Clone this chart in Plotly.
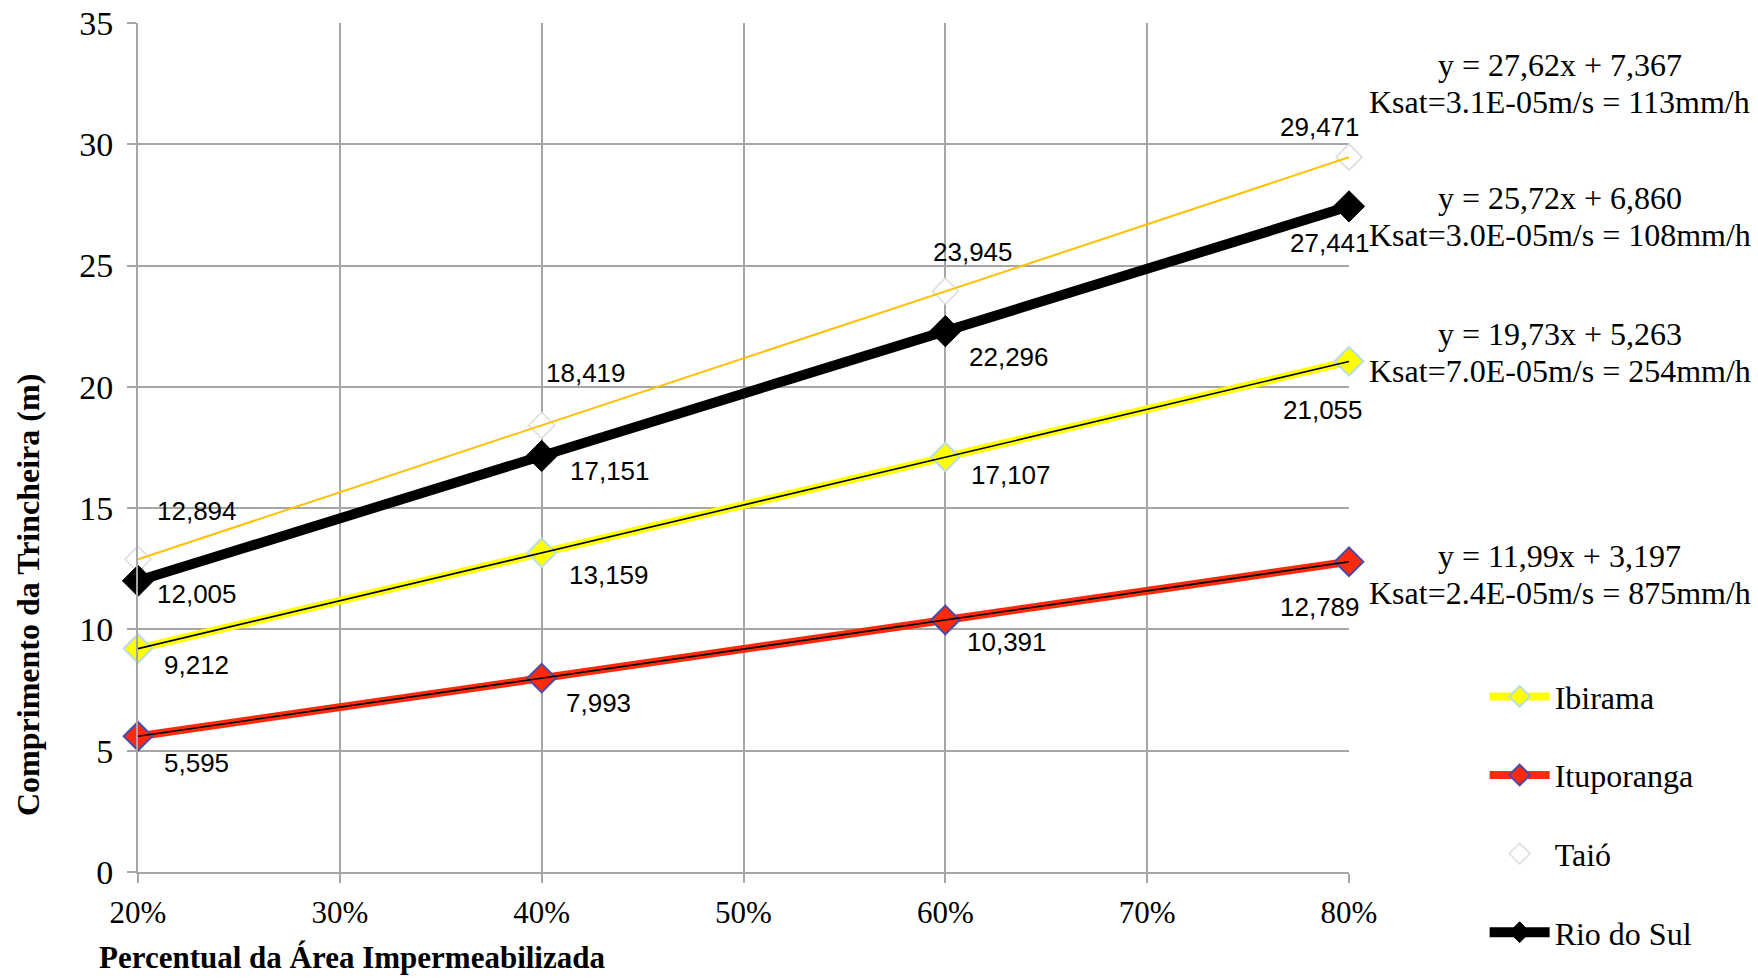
import plotly.graph_objects as go

# Percent of impervious area (fraction) and trench length (m) per municipality
area_fraction = [0.2, 0.4, 0.6, 0.8]

ibirama = [9.212, 13.159, 17.107, 21.055]
ituporanga = [5.595, 7.993, 10.391, 12.789]
taio = [12.894, 18.419, 23.945, 29.471]
rio_do_sul = [12.005, 17.151, 22.296, 27.441]

# Linear trend coefficients (y = a*x + b) and infiltration rates shown beside them
trend_slope = {"Taió": 27.62, "Rio do Sul": 25.72, "Ibirama": 19.73, "Ituporanga": 11.99}
trend_intercept = {"Taió": 7.367, "Rio do Sul": 6.860, "Ibirama": 5.263, "Ituporanga": 3.197}
ksat_text = {
    "Taió": "Ksat=3.1E-05m/s = 113mm/h",
    "Rio do Sul": "Ksat=3.0E-05m/s = 108mm/h",
    "Ibirama": "Ksat=7.0E-05m/s = 254mm/h",
    "Ituporanga": "Ksat=2.4E-05m/s = 875mm/h",
}

SERIF = "Liberation Serif, Times New Roman, serif"
SANS = "Liberation Sans, Arial, sans-serif"
GRID = "#a6a6a6"

series = [
    dict(name="Ibirama", y=ibirama, line=dict(color="#ffff00", width=8),
         marker=dict(symbol="diamond", size=22, color="#ffff00",
                     line=dict(color="#b9dde6", width=2)),
         trend_color="#000000", trend_width=1.6),
    dict(name="Ituporanga", y=ituporanga, line=dict(color="#ff2a0a", width=8),
         marker=dict(symbol="diamond", size=22, color="#ff2a0a",
                     line=dict(color="#4a4aa8", width=2)),
         trend_color="#000000", trend_width=1.6),
    dict(name="Taió", y=taio, line=dict(color="rgba(0,0,0,0)", width=0),
         marker=dict(symbol="diamond", size=20, color="#ffffff",
                     line=dict(color="#dcdcdc", width=1.5)),
         trend_color="#ffc000", trend_width=2),
    dict(name="Rio do Sul", y=rio_do_sul, line=dict(color="#000000", width=10),
         marker=dict(symbol="diamond", size=24, color="#000000",
                     line=dict(color="#000000", width=1)),
         trend_color="#000000", trend_width=1.6),
]

# pixel offsets of the value labels relative to each point
label_offsets = {
    "Taió": [(59, 48), (44, 52), (28, 39), (-29, 30)],
    "Rio do Sul": [(59, -13), (68, -15), (64, -26), (-19, -37)],
    "Ibirama": [(58, -16), (67, -22), (66, -18), (-26, -49)],
    "Ituporanga": [(58, -27), (57, -25), (62, -22), (-29, -45)],
}

# vertical centre (paper) of each two-line trend equation block
equation_y = {"Taió": 0.929, "Rio do Sul": 0.772, "Ibirama": 0.612, "Ituporanga": 0.350}
EQ_LINE_HALF = 18.5  # px between block centre and each line centre

fig = go.Figure()

for s in series:
    fig.add_trace(go.Scatter(
        x=area_fraction, y=s["y"], name=s["name"],
        mode="lines+markers" if s["line"]["width"] > 0 else "markers",
        line=s["line"], marker=s["marker"],
        legendgroup=s["name"], cliponaxis=False,
    ))

# linear trend lines drawn over the series
for s in series:
    a = trend_slope[s["name"]]
    b = trend_intercept[s["name"]]
    xs = [area_fraction[0], area_fraction[-1]]
    fig.add_trace(go.Scatter(
        x=xs, y=[a * x + b for x in xs], mode="lines",
        line=dict(color=s["trend_color"], width=s["trend_width"]),
        showlegend=False, hoverinfo="skip", cliponaxis=False,
    ))

annotations = []
for s in series:
    for x, v, (dx, dy) in zip(area_fraction, s["y"], label_offsets[s["name"]]):
        annotations.append(dict(
            x=x, y=v, xref="x", yref="y", showarrow=False,
            text=f"{v:.3f}".replace(".", ","), xshift=dx, yshift=dy,
            font=dict(family=SANS, size=26, color="#000000"),
        ))

for name, yy in equation_y.items():
    a = f"{trend_slope[name]:.2f}".replace(".", ",")
    b = f"{trend_intercept[name]:.3f}".replace(".", ",")
    for line_text, shift in ((f"y = {a}x + {b}", EQ_LINE_HALF),
                             (ksat_text[name], -EQ_LINE_HALF)):
        annotations.append(dict(
            x=1.174, y=yy, xref="paper", yref="paper", showarrow=False,
            xanchor="center", yanchor="middle", yshift=shift,
            text=line_text,
            font=dict(family=SERIF, size=32, color="#000000"),
        ))

# axis titles
annotations.append(dict(
    x=-0.034, y=-0.101, xref="paper", yref="paper", showarrow=False,
    xanchor="left", yanchor="middle",
    text="<b>Percentual da Área Impermeabilizada</b>",
    font=dict(family=SERIF, size=31, color="#000000"),
))
annotations.append(dict(
    x=-0.091, y=0.326, xref="paper", yref="paper", showarrow=False,
    xanchor="center", yanchor="middle", textangle=-90,
    text="<b>Comprimento da Trincheira (m)</b>",
    font=dict(family=SERIF, size=32, color="#000000"),
))

fig.update_layout(
    width=1758, height=978,
    margin=dict(l=138, r=409, t=23, b=106, autoexpand=False),
    paper_bgcolor="#ffffff", plot_bgcolor="#ffffff",
    showlegend=True,
    legend=dict(
        x=1.112, y=0.239, xanchor="left", yanchor="top",
        font=dict(family=SERIF, size=32, color="#000000"),
        tracegroupgap=34, itemsizing="trace", itemwidth=60,
        bgcolor="rgba(0,0,0,0)",
    ),
    annotations=annotations,
)

fig.update_xaxes(
    range=[0.2, 0.8], dtick=0.1, tick0=0.2, tickformat=".0%",
    showgrid=True, gridcolor=GRID, gridwidth=2,
    showline=True, linecolor=GRID, linewidth=2,
    ticks="outside", ticklen=9, tickwidth=2, tickcolor=GRID,
    zeroline=False, ticklabelstandoff=3, automargin=False,
    tickfont=dict(family=SERIF, size=31, color="#000000"),
)
fig.update_yaxes(
    range=[0, 35], dtick=5,
    showgrid=True, gridcolor=GRID, gridwidth=2,
    showline=True, linecolor=GRID, linewidth=2,
    ticks="outside", ticklen=9, tickwidth=2, tickcolor=GRID,
    zeroline=False, ticklabelstandoff=7, automargin=False,
    tickfont=dict(family=SERIF, size=34, color="#000000"),
)

fig.write_html("out.html")
